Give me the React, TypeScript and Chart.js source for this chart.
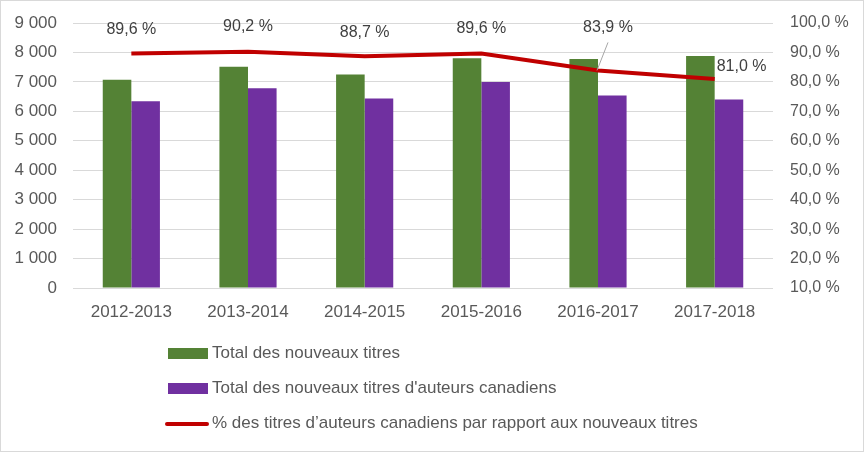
import React, { useEffect, useRef } from "react";
import { Chart, registerables } from "chart.js";

Chart.register(...registerables);

const categories = ["2012-2013", "2013-2014", "2014-2015", "2015-2016", "2016-2017", "2017-2018"];
const totalNew = [7070, 7510, 7250, 7800, 7780, 7880];
const totalCanadian = [6340, 6780, 6440, 7000, 6540, 6400];
const pctCanadian = [89.6, 90.2, 88.7, 89.6, 83.9, 81.0];
const seriesNames = [
  "Total des nouveaux titres",
  "Total des nouveaux titres d'auteurs canadiens",
  "% des titres d\u2019auteurs canadiens par rapport aux nouveaux titres",
];

const FONT = "'Liberation Sans', Arial, sans-serif";
const TEXT = "#595959";
const GRID = "#D9D9D9";

const fmtThousands = (v: number) => String(v).replace(/\B(?=(\d{3})+(?!\d))/g, " ");
const fmtPct = (v: number) => v.toFixed(1).replace(".", ",") + " %";

// label placement style (dx, dy, align, leader)
const labelPlacement = [
  { dx: 0, dy: -24, align: "center", leader: false },
  { dx: 0, dy: -25, align: "center", leader: false },
  { dx: 0, dy: -24, align: "center", leader: false },
  { dx: 0, dy: -25, align: "center", leader: false },
  { dx: 10, dy: -43, align: "center", leader: true },
  { dx: 2, dy: -12, align: "left", leader: false },
];

const labelsPlugin = {
  id: "lineLabels",
  afterDatasetsDraw(chart: any) {
    const idx = chart.data.datasets.findIndex((d: any) => d.type === "line");
    if (idx < 0) return;
    const meta = chart.getDatasetMeta(idx);
    const ctx = chart.ctx;
    ctx.save();
    ctx.font = `16px ${FONT}`;
    ctx.textBaseline = "middle";
    meta.data.forEach((pt: any, i: number) => {
      const p = labelPlacement[i] || labelPlacement[0];
      const v = chart.data.datasets[idx].data[i];
      const x = pt.x + p.dx;
      const y = pt.y + p.dy;
      if (p.leader) {
        ctx.strokeStyle = "#A6A6A6";
        ctx.lineWidth = 1;
        ctx.beginPath();
        ctx.moveTo(x, y + 15);
        ctx.lineTo(pt.x - 1, pt.y);
        ctx.stroke();
      }
      ctx.fillStyle = "#404040";
      ctx.textAlign = p.align;
      ctx.fillText(fmtPct(v), x, y);
    });
    ctx.restore();
  },
};

const legendPlugin = {
  id: "customLegend",
  afterDraw(chart: any) {
    const ctx = chart.ctx;
    const rows = [352, 387, 422];
    ctx.save();
    ctx.font = `17px ${FONT}`;
    ctx.textBaseline = "middle";
    ctx.textAlign = "left";
    chart.data.datasets.forEach((ds: any, i: number) => {
      const y = rows[i];
      if (ds.type === "line") {
        ctx.strokeStyle = ds.borderColor;
        ctx.lineWidth = 4;
        ctx.lineCap = "round";
        ctx.beginPath();
        ctx.moveTo(166, y + 1);
        ctx.lineTo(206, y + 1);
        ctx.stroke();
      } else {
        ctx.fillStyle = ds.backgroundColor;
        ctx.fillRect(167, y - 5, 40, 11);
      }
      ctx.fillStyle = TEXT;
      ctx.fillText(ds.label, 211, y);
    });
    ctx.restore();
  },
};

export default function App() {
  const ref = useRef<HTMLCanvasElement | null>(null);
  useEffect(() => {
    document.body.style.margin = "0";
    if (!ref.current) return;
    const chart = new Chart(ref.current, {
      type: "bar",
      data: {
        labels: categories,
        datasets: [
          {
            type: "bar",
            label: seriesNames[0],
            data: totalNew,
            backgroundColor: "#548235",
            yAxisID: "y",
            order: 2,
            categoryPercentage: 0.49,
            barPercentage: 1.0,
          },
          {
            type: "bar",
            label: seriesNames[1],
            data: totalCanadian,
            backgroundColor: "#7030A0",
            yAxisID: "y",
            order: 2,
            categoryPercentage: 0.49,
            barPercentage: 1.0,
          },
          {
            type: "line",
            label: seriesNames[2],
            data: pctCanadian,
            borderColor: "#C00000",
            backgroundColor: "#C00000",
            borderWidth: 4,
            pointRadius: 0,
            tension: 0,
            yAxisID: "y1",
            order: 0,
          } as any,
        ],
      },
      options: {
        animation: false,
        responsive: true,
        maintainAspectRatio: false,
        layout: { padding: { top: 22, bottom: 123, left: 0, right: 0 } },
        plugins: { legend: { display: false }, tooltip: { enabled: false } },
        scales: {
          x: {
            grid: { display: false, drawTicks: false },
            border: { display: false },
            ticks: { color: TEXT, font: { family: FONT, size: 17 }, padding: 14, maxRotation: 0 },
            afterFit: (s: any) => { s.height = 40; s.paddingLeft = 0; s.paddingRight = 0; },
          },
          y: {
            position: "left",
            min: 0,
            max: 9000,
            grid: { color: GRID, lineWidth: 1, drawTicks: false },
            border: { display: false },
            ticks: {
              stepSize: 1000,
              color: TEXT,
              font: { family: FONT, size: 17 },
              padding: 16,
              callback: (v: any) => fmtThousands(Number(v)),
            },
            afterFit: (s: any) => { s.width = 72; s.paddingTop = 0; s.paddingBottom = 0; },
          },
          y1: {
            position: "right",
            min: 10,
            max: 100,
            grid: { display: false, drawTicks: false },
            border: { display: false },
            ticks: {
              stepSize: 10,
              color: TEXT,
              font: { family: FONT, size: 16 },
              padding: 17,
              callback: (v: any) => fmtPct(Number(v)),
            },
            afterFit: (s: any) => { s.width = 90; s.paddingTop = 0; s.paddingBottom = 0; },
          },
        },
      },
      plugins: [labelsPlugin, legendPlugin],
    });
    return () => chart.destroy();
  }, []);
  return (
    <div style={{ width: 864, height: 452, border: "1px solid #D9D9D9", boxSizing: "border-box", background: "#fff" }}>
      <div style={{ width: 862, height: 450, position: "relative" }}>
        <canvas ref={ref} />
      </div>
    </div>
  );
}
